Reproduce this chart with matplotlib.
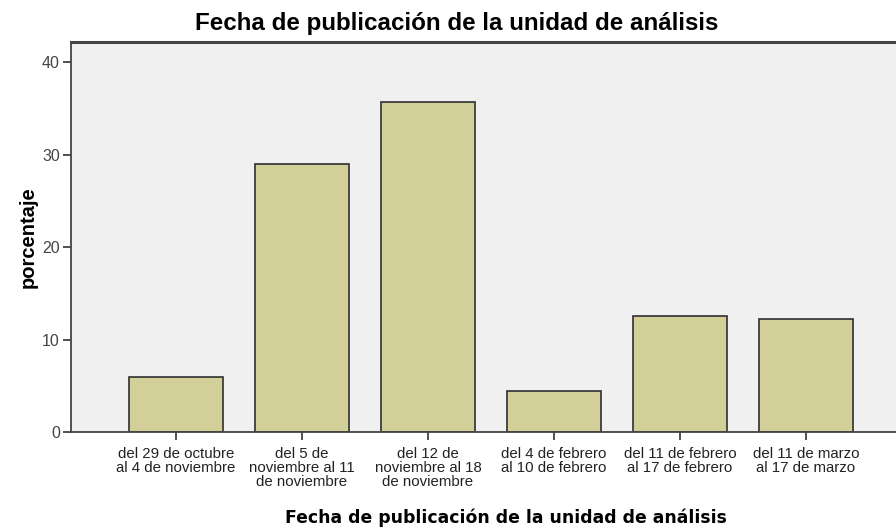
import matplotlib.pyplot as plt

categories = [
    "del 29 de octubre\nal 4 de noviembre",
    "del 5 de\nnoviembre al 11\nde noviembre",
    "del 12 de\nnoviembre al 18\nde noviembre",
    "del 4 de febrero\nal 10 de febrero",
    "del 11 de febrero\nal 17 de febrero",
    "del 11 de marzo\nal 17 de marzo",
]
porcentaje = [5.9, 29.0, 35.7, 4.4, 12.6, 12.2]
y_ticks = [0, 10, 20, 30, 40]

plt.rcParams["font.family"] = ["Liberation Sans", "DejaVu Sans"]

fig = plt.figure(figsize=(8.96, 5.3), dpi=100)
ax = fig.add_axes([0.0792, 0.1849, 0.9375, 0.7358])
ax.set_facecolor("#f0f0f0")

x = list(range(len(categories)))
ax.bar(x, porcentaje, width=0.75, color="#d3cf99", edgecolor="#2f2f2f", linewidth=1.2, zorder=2)

ax.set_xlim(-0.833, 5.833)
ax.set_ylim(0, 42.2)
ax.set_xticks(x)
ax.set_xticklabels(categories, fontsize=10.8, color="#222222", linespacing=1.0)
ax.set_yticks(y_ticks)
ax.set_yticklabels([str(v) for v in y_ticks], fontsize=11.5, color="#444444")
ax.tick_params(axis="both", length=6, width=1.2, color="#333333", pad=2)
ax.tick_params(axis="x", pad=5)

for side in ["left", "bottom", "top", "right"]:
    ax.spines[side].set_color("#444444")
    ax.spines[side].set_linewidth(1.3)
ax.spines["top"].set_linewidth(2.2)

fig.text(28 / 896, 0.552, "porcentaje", rotation=90, ha="center", va="center",
         fontsize=14.5, fontweight="bold")
fig.text(506 / 896, 0.0235, "Fecha de publicación de la unidad de análisis",
         ha="center", va="center", fontsize=12.4, fontweight="bold", family="DejaVu Sans")
fig.text(0.5095, 0.955, "Fecha de publicación de la unidad de análisis",
         ha="center", va="center", fontsize=17.4, fontweight="bold")

fig.savefig("out.png", dpi=100)
